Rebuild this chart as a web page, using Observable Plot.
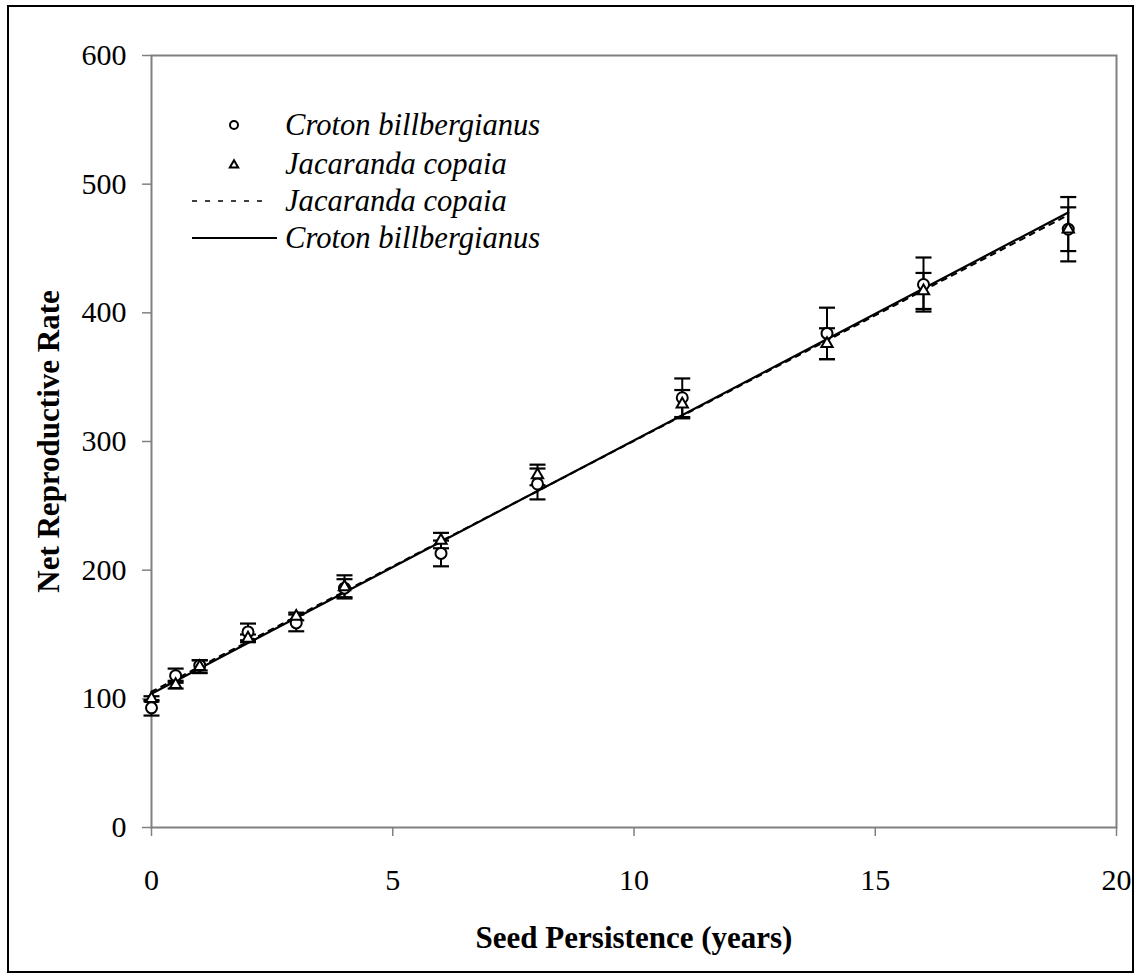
<!DOCTYPE html>
<html>
<head>
<meta charset="utf-8">
<script src="https://cdn.jsdelivr.net/npm/d3@7"></script>
<script src="https://cdn.jsdelivr.net/npm/@observablehq/plot@0.6"></script>
<style>
  html, body { margin: 0; padding: 0; background: #fff; }
  #wrap { position: relative; width: 1135px; height: 976px; }
  #border { position: absolute; left: 7px; top: 5px; width: 1127px; height: 968px; border: 2px solid #000; box-sizing: border-box; pointer-events: none; }
  g[aria-label="x-axis label"] text, g[aria-label="y-axis label"] text { font-weight: bold; font-size: 31px; }
</style>
</head>
<body>
<div id="wrap"><div id="border"></div></div>
<script>
// ---- data ----
const years = [0, 0.5, 1, 2, 3, 4, 6, 8, 11, 14, 16, 19];
const croton = [93, 118, 126, 152, 159, 186, 213, 267, 334, 384, 422, 465];
const crotonErr = [6, 5.5, 4, 6.5, 6.5, 7, 10, 12, 15, 20, 21, 25];
const jacaranda = [100, 111, 125, 147, 164, 187, 223, 274, 329, 376, 417, 465];
const jacarandaErr = [2, 3, 5, 3, 3, 9, 6, 8, 11, 12, 14, 17];
const fitYears = [0, 19];
const crotonFit = [104, 478];
const jacarandaFit = [105.5, 476];
const xTicks = [0, 5, 10, 15, 20];
const yTicks = [0, 100, 200, 300, 400, 500, 600];
const legendLabels = ["Croton billbergianus", "Jacaranda copaia", "Jacaranda copaia", "Croton billbergianus"];

const crotonData = years.map((x, i) => ({x, y: croton[i], lo: croton[i] - crotonErr[i], hi: croton[i] + crotonErr[i]}));
const jacData = years.map((x, i) => ({x, y: jacaranda[i], lo: jacaranda[i] - jacarandaErr[i], hi: jacaranda[i] + jacarandaErr[i]}));
const crotonLine = fitYears.map((x, i) => ({x, y: crotonFit[i]}));
const jacLine = fitYears.map((x, i) => ({x, y: jacarandaFit[i]}));

const capSymbol = {
  draw(ctx, size) {
    const r = Math.sqrt(size / Math.PI);
    ctx.moveTo(-r, 0);
    ctx.lineTo(r, 0);
  }
};

const font = "'Liberation Serif', 'Times New Roman', serif";

function errMarks(data) {
  return [
    Plot.ruleX(data, {x: "x", y1: "lo", y2: "hi", stroke: "#000", strokeWidth: 2}),
    Plot.dot(data, {x: "x", y: "lo", symbol: capSymbol, r: 8, stroke: "#000", strokeWidth: 2.2, fill: "none"}),
    Plot.dot(data, {x: "x", y: "hi", symbol: capSymbol, r: 8, stroke: "#000", strokeWidth: 2.2, fill: "none"})
  ];
}

const chart = Plot.plot({
  width: 1135,
  height: 976,
  marginLeft: 151,
  marginRight: 19,
  marginTop: 55,
  marginBottom: 149,
  style: {fontFamily: font, background: "transparent", color: "#000"},
  x: {domain: [0, 20]},
  y: {domain: [0, 600]},
  marks: [
    Plot.frame({stroke: "#808080", strokeWidth: 2}),
    Plot.axisX({ticks: xTicks, tickSize: 9, tickPadding: 32, fontSize: 30, stroke: "#808080", strokeWidth: 1.5, fill: "#000",
      label: "Seed Persistence (years)", labelAnchor: "center", labelOffset: 120, labelArrow: "none"}),
    Plot.axisY({ticks: yTicks, tickSize: 9, tickPadding: 16, fontSize: 30, stroke: "#808080", strokeWidth: 1.5, fill: "#000",
      label: "Net Reproductive Rate", labelAnchor: "center", labelOffset: 115, labelArrow: "none"}),
    Plot.line(jacLine, {x: "x", y: "y", stroke: "#000", strokeWidth: 2, strokeDasharray: "5,6"}),
    Plot.line(crotonLine, {x: "x", y: "y", stroke: "#000", strokeWidth: 2.2}),
    ...errMarks(crotonData),
    ...errMarks(jacData),
    Plot.dot(crotonData, {x: "x", y: "y", symbol: "circle", r: 5.5, stroke: "#000", strokeWidth: 2, fill: "#fff"}),
    Plot.dot(jacData, {x: "x", y: "y", symbol: "triangle", r: 4.2, stroke: "#000", strokeWidth: 2, fill: "#fff"})
  ]
});

document.getElementById("wrap").insertBefore(chart, document.getElementById("border"));

// legend drawn inside the plot area
const svg = d3.select(chart);
const lg = svg.append("g").attr("aria-label", "legend").style("font-family", font).attr("text-anchor", "start");
const rowY = [125, 164, 201, 238];
const symX = 234, textX = 285;
lg.append("circle").attr("cx", symX).attr("cy", rowY[0]).attr("r", 4).attr("fill", "#fff").attr("stroke", "#000").attr("stroke-width", 2);
lg.append("path").attr("d", d3.symbol(d3.symbolTriangle2, 50)()).attr("transform", `translate(${symX},${rowY[1] + 1})`)
  .attr("fill", "#fff").attr("stroke", "#000").attr("stroke-width", 2);
lg.append("line").attr("x1", 192).attr("x2", 270).attr("y1", rowY[2]).attr("y2", rowY[2]).attr("stroke", "#000").attr("stroke-width", 1.6).attr("stroke-dasharray", "5,8");
lg.append("line").attr("x1", 192).attr("x2", 277).attr("y1", rowY[3]).attr("y2", rowY[3]).attr("stroke", "#000").attr("stroke-width", 2.2);
legendLabels.forEach((t, i) => {
  lg.append("text").attr("x", textX).attr("y", rowY[i] + 10).attr("font-size", 30.6).attr("font-style", "italic").attr("fill", "#000").attr("text-anchor", "start").text(t);
});
</script>
</body>
</html>
